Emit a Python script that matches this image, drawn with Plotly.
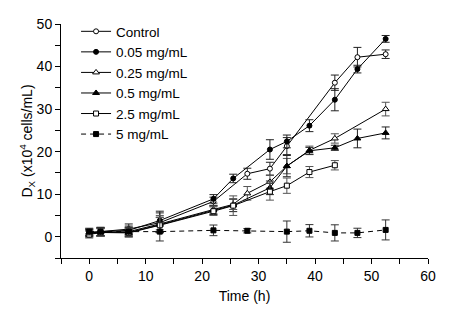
import plotly.graph_objects as go

# ---- data ----
ctrl_t = [0, 2, 7, 12.5, 22, 28, 32, 35, 43.5, 47.5, 52.5]
ctrl_y = [0.8, 1.2, 1.8, 3.3, 8.3, 14.8, 16.0, 21.3, 36.2, 42.2, 42.9]
ctrl_e = [0.8, 1.0, 1.2, 2.3, 1.0, 1.3, 1.5, 2.0, 1.8, 2.3, 1.0]

c005_t = [0, 2, 7, 12.5, 22, 25.5, 32, 35, 39, 43.5, 47.5, 52.5]
c005_y = [1.0, 1.2, 1.5, 3.8, 8.9, 13.7, 20.5, 22.4, 26.1, 32.2, 39.4, 46.5]
c005_e = [0.8, 1.0, 1.0, 2.2, 1.0, 1.0, 2.3, 1.5, 1.4, 2.6, 0.9, 0.8]

c025_t = [0, 2, 7, 12.5, 22, 25.5, 28, 32, 35, 39, 43.5, 52.5]
c025_y = [0.7, 1.0, 1.2, 3.0, 6.4, 7.6, 10.2, 12.9, 16.6, 20.3, 23.1, 30.0]
c025_e = [0.8, 0.9, 1.0, 2.0, 1.0, 1.2, 1.6, 1.5, 1.8, 1.0, 1.1, 1.6]

c05_t = [0, 2, 7, 12.5, 22, 25.5, 32, 35, 39, 43.5, 47.5, 52.5]
c05_y = [1.0, 1.1, 1.0, 2.8, 6.2, 7.4, 11.5, 16.6, 20.2, 20.9, 23.1, 24.4]
c05_e = [0.8, 0.9, 1.0, 1.8, 1.0, 1.5, 1.6, 2.5, 0.8, 0.6, 2.2, 1.4]

c25_t = [0, 2, 7, 12.5, 22, 25.5, 32, 35, 39, 43.5]
c25_y = [0.5, 1.0, 0.9, 2.7, 6.0, 7.3, 10.6, 12.0, 15.2, 16.8]
c25_e = [0.8, 0.9, 1.0, 1.8, 1.0, 2.3, 2.0, 1.8, 1.3, 1.1]

c5_t = [0, 2, 7, 12.5, 22, 28, 35, 39, 43.5, 47.5, 52.5]
c5_y = [1.2, 1.2, 1.2, 1.2, 1.5, 1.4, 1.2, 1.4, 0.9, 0.9, 1.6]
c5_e = [0.8, 0.9, 1.0, 2.2, 1.25, 0.5, 2.5, 1.45, 1.9, 1.1, 2.35]

names = ["Control", "0.05 mg/mL", "0.25 mg/mL", "0.5 mg/mL", "2.5 mg/mL", "5 mg/mL"]

series = [
    (ctrl_t, ctrl_y, ctrl_e, "circle", "white", "solid", "#222"),
    (c005_t, c005_y, c005_e, "circle", "black", "solid", "#222"),
    (c025_t, c025_y, c025_e, "triangle-up", "white", "solid", "#555"),
    (c05_t, c05_y, c05_e, "triangle-up", "black", "solid", "#222"),
    (c25_t, c25_y, c25_e, "square", "white", "solid", "#555"),
    (c5_t, c5_y, c5_e, "square", "black", "5px,4px", "#333"),
]

FONT = "Arial, Liberation Sans, sans-serif"

fig = go.Figure()
for name, (t, y, e, sym, fill, dash, ecol) in zip(names, series):
    fig.add_trace(go.Scatter(
        x=t, y=y, name=name, mode="lines+markers",
        line=dict(color="black", width=1, dash=dash),
        marker=dict(symbol=sym, size=5 if "triangle" not in sym else 6,
                    color=fill, line=dict(color="black", width=1)),
        error_y=dict(type="data", array=e, visible=True, color=ecol,
                     thickness=1, width=4),
    ))

axis_common = dict(
    showline=True, linecolor="black", linewidth=1,
    ticks="outside", ticklen=5, tickwidth=1, tickcolor="black",
    showgrid=False, zeroline=False, mirror=False,
    tickfont=dict(family=FONT, size=14, color="black"),
    minor=dict(dtick=5, ticks="outside", ticklen=5, tickwidth=1, tickcolor="black", showgrid=False),
)

fig.update_xaxes(range=[-5, 60], dtick=10, tick0=0, **axis_common,
                 title=dict(text="Time (h)", font=dict(family=FONT, size=14, color="black"), standoff=8))
fig.update_yaxes(range=[-5, 50], dtick=10, tick0=0, **axis_common,
                 title=dict(text="D<sub>X</sub> (x10<sup>4</sup> cells/mL)",
                            font=dict(family=FONT, size=14, color="black"), standoff=0))

# page body has an 8px default margin, so the figure is offset by 8px
fig.update_layout(
    width=443, height=307,
    margin=dict(l=53, r=23, t=16, b=57, autoexpand=False),
    paper_bgcolor="white", plot_bgcolor="white",
    showlegend=True,
    legend=dict(x=0.041, y=1.034, xanchor="left", yanchor="top",
                font=dict(family=FONT, size=13.5, color="black"),
                bgcolor="rgba(0,0,0,0)", tracegroupgap=0, itemwidth=30),
)

fig.write_html("out.html")
